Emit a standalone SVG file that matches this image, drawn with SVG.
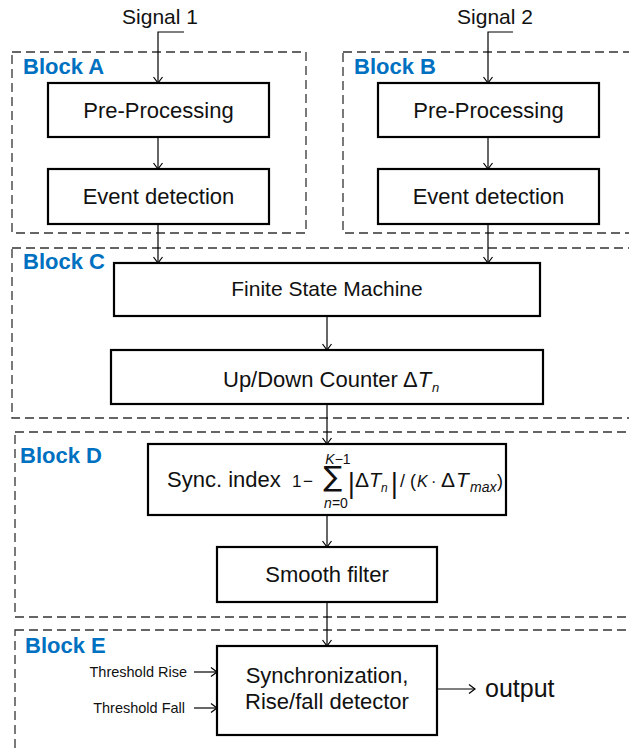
<svg xmlns="http://www.w3.org/2000/svg" width="629" height="750" viewBox="0 0 629 750">
  <style>
    .frame { fill: none; stroke: #333; stroke-width: 1.3; stroke-dasharray: 9 5; }
    .box { fill: #fff; stroke: #000; stroke-width: 2.2; }
    .lbl { font-family: "Liberation Sans", Arial, sans-serif; font-size: 22px; fill: #111; text-anchor: middle; }
    .blk { font-family: "Liberation Sans", Arial, sans-serif; font-size: 22px; font-weight: bold; fill: #0070C0; }
    .sm { font-family: "Liberation Sans", Arial, sans-serif; font-size: 14.5px; fill: #111; text-anchor: end; }
    .math { font-family: "Liberation Sans", Arial, sans-serif; fill: #111; }
    .sym { font-family: "DejaVu Sans", "Liberation Sans", sans-serif; fill: #111; }
    .it { font-style: italic; }
    .wire { fill: none; stroke: #000; stroke-width: 1.2; marker-end: url(#arr); }
  </style>
  <defs>
    <marker id="arr" markerUnits="userSpaceOnUse" markerWidth="12" markerHeight="12" viewBox="-7 -6 8 12" refX="0" refY="0" orient="auto">
      <path d="M-6,-4.5 L0,0 L-6,4.5" fill="none" stroke="#000" stroke-width="1.2"/>
    </marker>
  </defs>

  <rect width="629" height="750" fill="#fff"/>

  <!-- dashed block frames -->
  <g id="frames">
    <rect class="frame" x="12" y="52" width="294" height="181"/>
    <rect class="frame" x="343" y="52" width="300" height="181"/>
    <rect class="frame" x="12" y="248" width="640" height="170"/>
    <rect class="frame" x="15" y="432" width="640" height="185"/>
    <rect class="frame" x="15" y="630" width="640" height="140"/>
  </g>

  <g id="block-labels">
    <text class="blk" x="23" y="74">Block A</text>
    <text class="blk" x="354" y="74">Block B</text>
    <text class="blk" x="23" y="269">Block C</text>
    <text class="blk" x="20" y="463">Block D</text>
    <text class="blk" x="25" y="653">Block E</text>
  </g>

  <!-- connectors -->
  <g id="connectors">
    <polyline class="wire" points="184,32 158,32 158,83"/>
    <polyline class="wire" points="513,32 488,32 488,83"/>
    <line class="wire" x1="158" y1="137" x2="158" y2="169"/>
    <line class="wire" x1="488" y1="137" x2="488" y2="169"/>
    <line class="wire" x1="158" y1="224" x2="158" y2="263"/>
    <line class="wire" x1="488" y1="224" x2="488" y2="263"/>
    <line class="wire" x1="327" y1="316" x2="327" y2="350"/>
    <line class="wire" x1="327" y1="404" x2="327" y2="444"/>
    <line class="wire" x1="327" y1="515" x2="327" y2="547"/>
    <line class="wire" x1="327" y1="602" x2="327" y2="646"/>
    <line class="wire" x1="194" y1="672" x2="217" y2="672"/>
    <line class="wire" x1="194" y1="708" x2="217" y2="708"/>
    <line class="wire" x1="437" y1="689" x2="475" y2="689"/>
  </g>

  <g id="signal1"><text class="lbl" x="160" y="24" style="font-size:21px">Signal 1</text></g>
  <g id="signal2"><text class="lbl" x="495" y="24" style="font-size:21px">Signal 2</text></g>

  <g id="preproc-a">
    <rect class="box" x="48" y="83" width="221" height="54"/>
    <text class="lbl" x="158.5" y="118">Pre-Processing</text>
  </g>
  <g id="event-a">
    <rect class="box" x="48" y="169" width="221" height="55"/>
    <text class="lbl" x="158.5" y="204">Event detection</text>
  </g>
  <g id="preproc-b">
    <rect class="box" x="378" y="83" width="221" height="54"/>
    <text class="lbl" x="488.5" y="118">Pre-Processing</text>
  </g>
  <g id="event-b">
    <rect class="box" x="378" y="169" width="221" height="55"/>
    <text class="lbl" x="488.5" y="204">Event detection</text>
  </g>

  <g id="fsm">
    <rect class="box" x="114" y="263" width="426" height="53"/>
    <text class="lbl" x="327" y="296" style="font-size:21px">Finite State Machine</text>
  </g>

  <g id="counter">
    <rect class="box" x="111" y="350" width="432" height="54"/>
    <text class="lbl" x="223" y="387" style="text-anchor:start">Up/Down Counter</text>
    <text class="lbl" x="403" y="387" style="text-anchor:start">Δ<tspan class="it">T</tspan></text>
    <text class="lbl it" x="432" y="392" style="text-anchor:start;font-size:13px">n</text>
  </g>

  <g id="sync-index">
    <rect class="box" x="148" y="444" width="358" height="71"/>
    <text class="lbl" x="167" y="487" style="text-anchor:start">Sync. index</text>
    <!-- 1 − Σ|ΔTn| / (K·ΔTmax) -->
    <text class="math" x="292" y="487" font-size="17">1</text>
    <text class="math" x="303" y="487" font-size="17">−</text>
    <text class="sym" x="333" y="486" font-size="28" text-anchor="middle">∑</text>
    <text class="math" x="338" y="464" font-size="14" text-anchor="middle"><tspan class="it">K</tspan>−1</text>
    <text class="math" x="336" y="508" font-size="14" text-anchor="middle"><tspan class="it">n</tspan>=0</text>
    <text class="sym" x="347" y="492" font-size="26">|</text>
    <text class="math" x="355" y="487" font-size="21">Δ</text>
    <text class="math it" x="369" y="487" font-size="20">T</text>
    <text class="math it" x="381" y="492" font-size="12">n</text>
    <text class="sym" x="390" y="492" font-size="26">|</text>
    <text class="math" x="400" y="487" font-size="18">/</text>
    <text class="math" x="410" y="487" font-size="18">(</text>
    <text class="math it" x="417" y="487" font-size="16">K</text>
    <text class="math" x="431" y="487" font-size="16">·</text>
    <text class="math" x="441" y="487" font-size="21">Δ</text>
    <text class="math it" x="456" y="487" font-size="21">T</text>
    <text class="math it" x="470" y="492" font-size="14">max</text>
    <text class="math" x="497" y="487" font-size="18">)</text>
  </g>

  <g id="smooth">
    <rect class="box" x="217" y="547" width="220" height="55"/>
    <text class="lbl" x="327" y="582">Smooth filter</text>
  </g>

  <g id="detector">
    <rect class="box" x="217" y="646" width="220" height="89"/>
    <text class="lbl" x="327" y="683">Synchronization,</text>
    <text class="lbl" x="327" y="709">Rise/fall detector</text>
  </g>

  <g id="threshold-rise"><text class="sm" x="187" y="677">Threshold Rise</text></g>
  <g id="threshold-fall"><text class="sm" x="185" y="713">Threshold Fall</text></g>
  <g id="output"><text class="lbl" x="485" y="697" style="text-anchor:start;font-size:25px">output</text></g>
</svg>
